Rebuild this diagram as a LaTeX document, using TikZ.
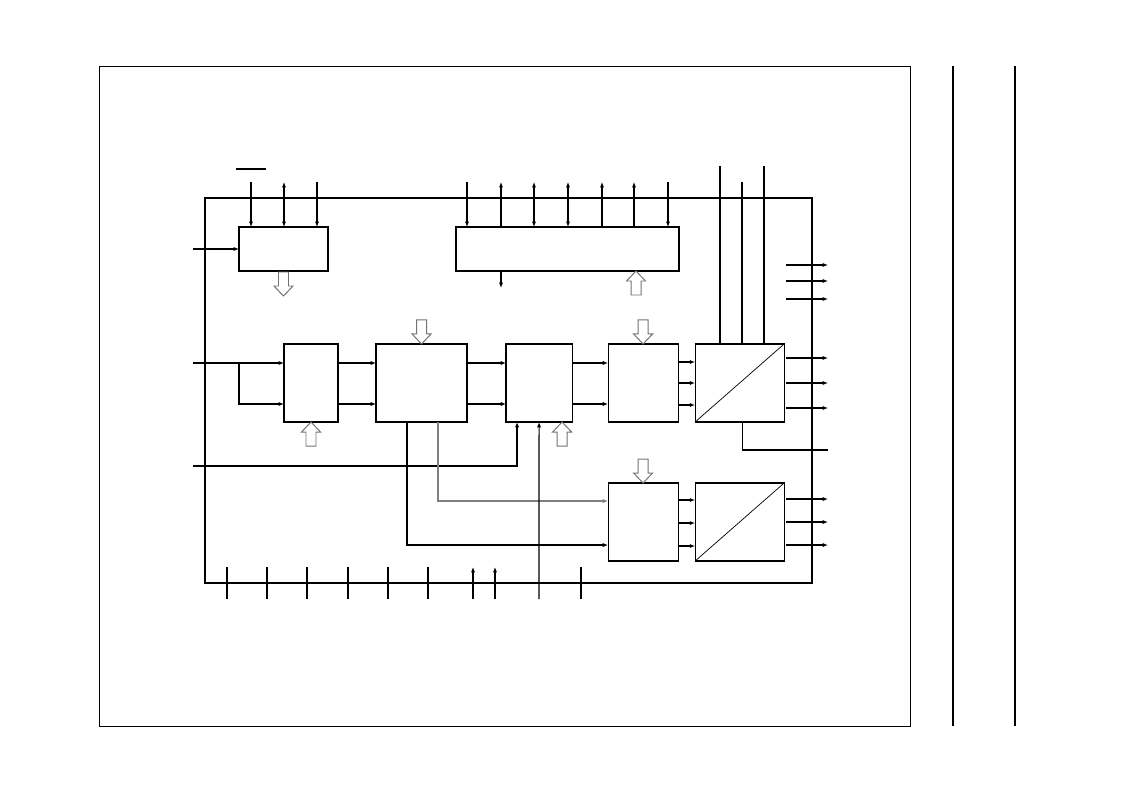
\documentclass[tikz,border=0pt]{standalone}
\usetikzlibrary{arrows.meta,positioning,calc}
\tikzset{
	>={Latex[length=3.8pt,width=3pt]},
	wire/.style={line width=0.8pt},
	%
	block/.style={
		rectangle, draw=black, line width=0.8pt, inner sep=0pt, outer sep=0pt,
		minimum height=1.95cm
	},
	%
	regblock/.style={
		block, minimum height=1.1cm
	},
	%
	hollow/.style={
		draw=black!55, fill=white, line width=0.7pt
	},
	%
	busin/.pic={
		\draw[hollow] (-5,-24) -- (5,-24) -- (5,-10) -- (9.5,-10) -- (0,0)
			-- (-9.5,-10) -- (-5,-10) -- cycle;
	}
}

\begin{document}
\begin{tikzpicture}[x=0.025cm, y=-0.025cm, wire]
    \useasboundingbox (0,0) rectangle (1123,793);
    % page frame
    \draw[line width=0.6pt] (99,66) rectangle (910,726);
    \draw[line width=1.6pt] (953,66) -- (953,726);
    \draw[line width=1.6pt] (1015,66) -- (1015,726);
    \draw (205,198) rectangle (812,583);

    \node(ctrl)[regblock, minimum width=2.225cm] at (283.5,249){};
    \node(bus)[regblock, minimum width=5.575cm] at (567.5,249){};
    \node(sel)[block, minimum width=1.35cm] at (311,383){};
    \node(proc)[block, minimum width=2.275cm, right=0.95cm of sel]{};
    \node(filt)[block, minimum width=1.65cm, right=0.975cm of proc]{};
    \node(mixA)[block, minimum width=1.75cm, right=0.9cm of filt]{};
    \node(dacA)[block, minimum width=2.225cm, right=0.425cm of mixA]{};
    \node(mixB)[block, minimum width=1.75cm, below=1.525cm of mixA]{};
    \node(dacB)[block, minimum width=2.225cm, below=1.525cm of dacA]{};
    \draw[line width=0.5pt] (dacA.south west) -- (dacA.north east);
    \draw[line width=0.5pt] (dacB.south west) -- (dacB.north east);

    % pins on top
    \coordinate (ovl) at (236,169);
    \draw (ovl) -- ++(30,0);
    \foreach \x [count=\i] in {251,284,317,467,501,534,568,602,634,668}
        \coordinate (t\i) at (\x,182);
    \foreach \i in {1,3} \draw[->] (t\i) -- (t\i |- ctrl.north);
    \draw[<->] (t2) -- (t2 |- ctrl.north);
    \foreach \i in {4,10} \draw[->] (t\i) -- (t\i |- bus.north);
    \foreach \i in {5,8,9} \draw[<-] (t\i) -- (t\i |- bus.north);
    \foreach \i in {6,7} \draw[<->] (t\i) -- (t\i |- bus.north);
    \draw[->] (t5 |- bus.south) -- ++(0,17);
    \foreach \x/\y [count=\i] in {720/166,742/182,764/166}{
        \coordinate (v\i) at (\x,\y);
        \draw (v\i) -- (v\i |- dacA.north);
    }

    % outputs on the right
    \coordinate (rim) at (828,0);
    \foreach \y [count=\i] in {265,281,299}{
        \coordinate (r\i) at (786,\y);
        \draw[->] (r\i) -- (r\i -| rim);
    }
    \foreach \d in {-25,0,25}
        \draw[->] ($(dacA.east)+(2,\d)$) coordinate (o) -- (o -| rim);
    \foreach \d in {-23,0,23}
        \draw[->] ($(dacB.east)+(2,\d)$) coordinate (o) -- (o -| rim);
    \coordinate (mon) at (828,450);
    \draw ($(dacA.south)+(2.5,0)$) |- (mon);

    % inputs on the left
    \coordinate (inA) at (193,249);
    \coordinate (inB) at (193,363);
    \coordinate (inC) at (193,466);
    \coordinate (split) at (239,363);
    \draw[->] (inA) -- (ctrl.west);
    \draw[->] (inB) -- (inB -| sel.west);
    \draw[->] (split) |- ($(sel.west)+(0,21)$);
    \draw[->] (inC) -| ($(filt.south west)+(11,0)$);

    % signal path
    \foreach \a/\b in {sel/proc,proc/filt,filt/mixA}{
        \draw[->] ($(\a.east)+(0,-20)$) -- ($(\b.west)+(0,-20)$);
        \draw[->] ($(\a.east)+(0,21)$) -- ($(\b.west)+(0,21)$);
    }
    \foreach \d in {-21,0,22}
        \draw[->] ($(mixA.east)+(0,\d)$) -- ($(dacA.west)+(0,\d)$);
    \foreach \d in {-22,1,24}
        \draw[->] ($(mixB.east)+(0,\d)$) -- ($(dacB.west)+(0,\d)$);
    \draw[->] ($(proc.south west)+(31,0)$) |- ($(mixB.west)+(0,23)$);
    \draw[->, draw=black!50] ($(proc.south)+(16.5,0)$) |- ($(mixB.west)+(0,-21)$);

    % pins at the bottom
    \foreach \x [count=\i] in {227,267,307,348,388,428,473,495,539,581}
        \coordinate (b\i) at (\x,599);
    \foreach \i in {1,2,3,4,5,6,10} \draw (b\i) -- ++(0,-32);
    \foreach \i in {7,8} \draw[->] (b\i) -- ++(0,-32);
    \draw[->] (b9) -- (filt.south);

    % bus arrows
    \pic at ($(ctrl.south)+(0,25)$) {busin};
    \pic[rotate=180] at ($(bus.south)+(68.5,0)$) {busin};
    \pic at (proc.north) {busin};
    \pic[rotate=180] at (sel.south) {busin};
    \pic[rotate=180] at ($(filt.south east)+(-10,0)$) {busin};
    \pic at (mixA.north) {busin};
    \pic at (mixB.north) {busin};
\end{tikzpicture}
\end{document}
